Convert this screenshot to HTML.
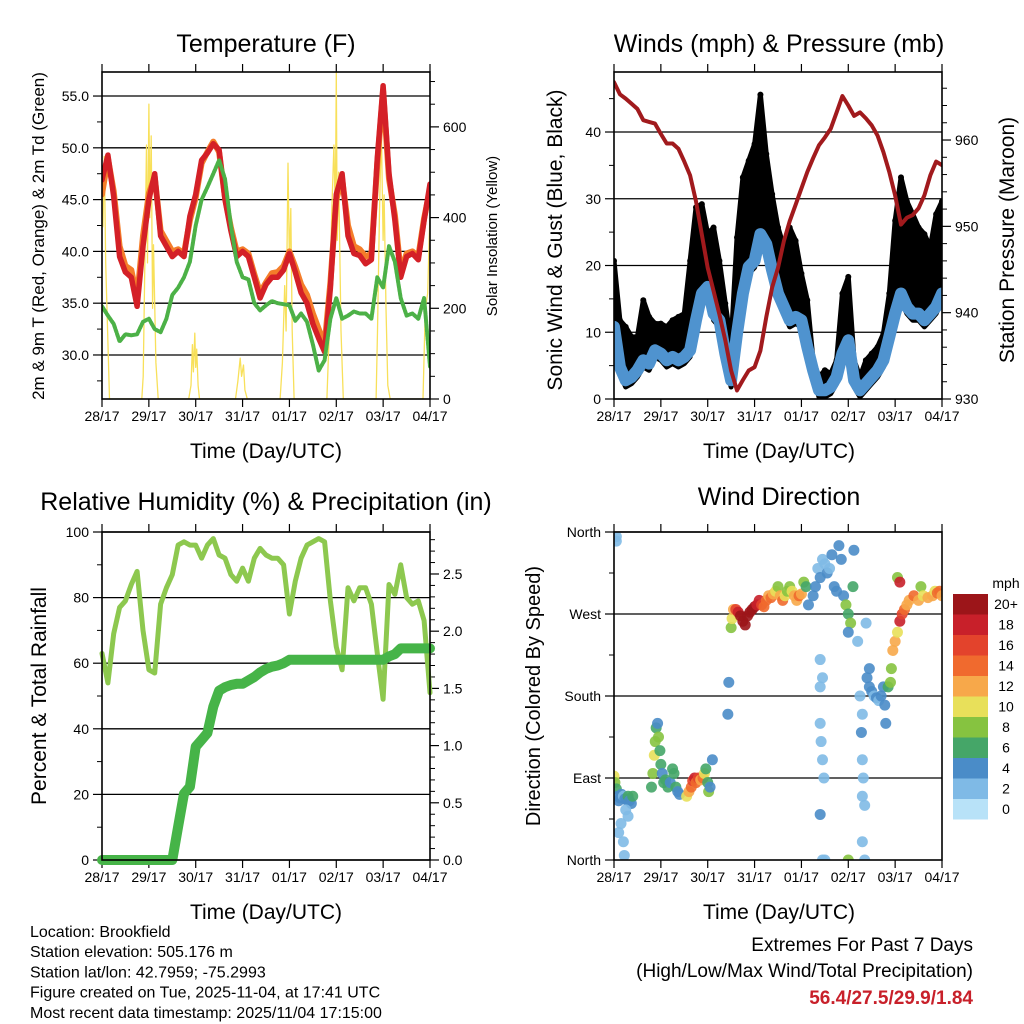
<!DOCTYPE html>
<html><head><meta charset="utf-8"><style>
body{margin:0;background:#fff;}
svg{display:block;font-family:"Liberation Sans",Arial,sans-serif;}
</style></head><body>
<svg id="c" width="1024" height="1024" viewBox="0 0 1024 1024"></svg>
<script>
// ---------- DATA (3-hour steps over 7 days unless noted) ----------
const dayLabels = ["28/17","29/17","30/17","31/17","01/17","02/17","03/17","04/17"];
const tempRed = [46.9,49.3,45.3,39.5,38.0,37.5,34.7,40.5,45.0,47.5,41.5,40.5,39.5,40.0,39.5,43.4,45.5,48.8,49.5,50.4,49.8,45.0,42.0,39.5,40.0,39.5,37.5,35.5,36.8,37.5,37.5,38.2,39.8,38.0,36.0,35.0,33.0,31.6,30.3,36.5,45.5,47.5,41.5,39.8,39.6,38.8,39.2,49.0,56.0,47.5,43.0,37.5,39.5,39.8,39.2,43.0,46.5];
const tempOrange = [45.5,49.0,45.8,40.5,38.6,38.2,35.5,41.5,45.6,47.2,42.0,41.0,40.0,40.2,39.8,43.0,45.2,48.5,49.6,50.6,49.6,45.2,42.3,40.0,40.2,39.8,37.8,36.0,37.0,37.9,38.0,38.6,40.0,38.5,36.8,35.8,34.0,32.5,31.0,37.0,45.0,47.0,42.5,40.5,40.2,39.5,39.8,48.5,55.5,47.0,43.5,38.0,39.8,40.0,39.5,43.2,46.0];
const tempDew = [34.7,33.8,33.0,31.3,32.0,31.9,32.0,33.2,33.5,32.5,32.2,33.5,35.8,36.5,37.5,39.0,42.5,45.0,46.2,47.5,48.8,47.0,42.5,39.0,37.5,37.3,35.0,34.3,34.8,35.2,35.0,34.9,34.8,33.3,34.0,33.2,31.0,28.5,29.5,33.5,35.5,33.5,33.8,34.2,34.0,34.0,33.5,37.5,36.5,40.5,39.0,35.5,33.8,34.0,33.5,35.5,28.9];
const solarDays = [0,0.02,0.05,0.08,0.12,0.16,0.85,0.88,0.9,0.95,0.97,1.0,1.02,1.05,1.08,1.1,1.15,1.2,1.85,1.9,1.93,1.95,1.98,2.0,2.02,2.05,2.08,2.85,2.9,2.95,2.98,3.02,3.05,3.1,3.8,3.85,3.9,3.93,3.97,4.0,4.03,4.06,4.1,4.8,4.85,4.9,4.95,4.98,5.0,5.02,5.05,5.1,5.15,5.85,5.88,5.92,5.96,6.0,6.02,6.06,6.1,6.15,6.85,6.9,6.95,6.98,7.0];
const solarVals = [420,380,535,300,150,0,0,50,200,560,300,650,400,580,200,340,80,0,0,30,120,60,145,70,110,30,0,0,40,90,50,75,20,0,0,80,250,150,520,300,420,150,0,0,150,400,560,400,722,350,500,150,0,0,150,400,600,350,450,200,30,0,0,200,233,350,400];
const pressure = [966.7,965.3,964.8,964.2,963.6,962.3,962.1,961.9,960.7,959.6,959.6,959.0,957.5,955.9,952.9,949.0,945.2,942.5,939.8,936.8,933.3,931.0,932.2,933.3,933.7,935.6,939.5,942.9,945.2,948.3,950.6,952.5,954.4,956.3,957.9,959.4,960.3,961.3,963.2,965.1,964.0,962.8,963.2,962.5,961.7,960.5,958.6,956.3,953.6,950.2,951.0,951.3,952.1,953.6,955.9,957.5,957.1];
const windMean = [10.8,4.8,2.8,3.3,4.3,5.8,5.3,7.3,6.8,5.8,6.3,5.8,6.3,7.3,11.8,15.8,16.8,12.8,11.8,6.8,2.8,9.8,15.8,19.8,20.7,24.7,23.2,19.3,15.8,13.8,11.8,12.3,11.8,7.8,4.3,1.3,1.3,1.8,3.3,6.8,8.8,2.8,1.3,2.3,3.3,4.3,5.8,9.3,12.8,15.8,13.8,12.8,12.8,11.8,12.8,13.8,15.8];
const windGust = [20.7,11.8,10.8,9.3,9.3,14.8,12.3,11.3,11.3,10.8,11.8,12.3,12.8,20.7,28.7,29.2,24.7,25.7,20.7,14.3,8.3,24.2,33.2,35.7,38.2,45.6,36.7,30.7,25.7,22.7,25.7,23.7,18.8,14.8,5.8,3.3,4.3,3.8,5.8,15.8,18.3,5.8,3.3,5.8,6.8,7.8,9.8,15.8,26.7,33.2,29.6,27.7,25.7,24.7,22.7,27.7,29.6];
const rh = [63,54,69,77,79,84,88,70,58,57,78,83,87,96,97,96,96,92,96,98,93,92,87,85,89,85,92,95,93,92,92,90,75,85,92,96,97,98,97,79,65,58,83,79,83,83,78,63,49,84,81,90,80,78,79,73,51];
const precip = [0,0,0,0,0,0,0,0,0,0,0,0,0,0.29,0.58,0.64,0.99,1.05,1.11,1.34,1.48,1.51,1.53,1.54,1.54,1.57,1.60,1.64,1.67,1.69,1.70,1.72,1.75,1.75,1.75,1.75,1.75,1.75,1.75,1.75,1.75,1.75,1.75,1.75,1.75,1.75,1.75,1.75,1.75,1.78,1.80,1.85,1.85,1.85,1.85,1.85,1.85];
const dirDays = [0.0,0.02,0.05,0.08,0.1,0.13,0.16,0.2,0.23,0.27,0.3,0.33,0.37,0.4,0.15,0.2,0.22,0.1,0.25,0.3,0.05,0.05,
0.8,0.83,0.86,0.88,0.9,0.93,0.95,0.98,1.0,1.03,1.06,1.1,1.15,1.2,1.25,1.28,1.32,1.36,1.4,
1.55,1.6,1.65,1.68,1.72,1.75,1.8,1.85,1.9,1.93,1.96,2.0,2.02,2.05,2.1,
2.5,2.52,2.55,2.6,2.65,2.7,2.75,2.8,2.85,2.9,2.95,3.0,3.05,3.1,3.15,3.2,3.25,3.3,3.35,3.4,3.45,3.5,3.55,3.6,3.65,3.7,3.75,3.8,3.85,3.9,3.95,4.0,4.05,4.1,4.15,2.45,2.43,
4.25,4.3,4.35,4.4,4.45,4.5,4.55,4.6,4.65,4.7,4.75,4.8,4.85,4.9,4.95,5.0,5.05,5.0,5.1,5.12,4.45,4.5,4.4,4.45,4.4,4.42,4.45,4.48,4.4,4.4,
5.25,5.3,5.28,5.3,5.32,5.3,5.35,5.3,5.35,5.2,5.38,5.0,
5.4,5.45,5.45,5.5,5.55,5.6,5.65,5.7,5.75,5.78,5.8,5.85,5.9,5.92,5.95,6.0,6.05,6.1,6.15,6.2,6.25,6.3,6.4,6.5,6.55,6.6,6.7,6.8,6.85,6.9,6.95,7.0,6.05,6.1];
const dirDeg = [92,85,78,70,65,68,72,70,67,66,70,65,62,70,40,20,5,30,55,48,355,350,
80,95,115,130,145,150,135,120,105,95,85,88,80,85,100,95,80,75,72,
70,75,80,87,90,85,90,88,90,95,100,85,75,80,110,
255,265,275,275,272,268,262,258,268,272,275,278,280,285,280,278,285,290,288,292,295,300,290,285,290,295,300,295,290,285,290,292,305,300,280,195,160,
290,300,320,310,330,325,315,320,335,300,295,345,330,290,280,270,260,250,300,340,0,0,220,200,150,130,110,90,50,190,
180,160,140,110,90,70,60,20,0,240,260,0,
200,210,190,185,180,178,175,180,190,170,150,190,195,210,230,240,250,262,270,275,280,285,290,285,300,290,288,290,295,293,295,290,310,305];
const dirSpeed = [10,8,6,4,3,4,3,2,4,3,5,4,3,5,1,1,1,1,2,1,1,2,
5,8,9,7,6,4,7,6,5,4,6,5,6,4,5,6,5,4,4,
10,12,14,16,18,14,16,12,13,10,6,6,8,4,4,
8,10,12,16,18,20,20,20,20,20,20,20,18,18,16,14,14,12,14,12,10,8,12,14,10,8,7,9,12,11,14,12,8,6,4,4,3,
4,3,2,3,2,1,3,2,3,4,4,4,4,4,7,6,8,3,5,4,1,1,1,1,1,2,1,1,3,2,
2,1,3,2,2,1,2,1,1,1,1,8,
3,4,3,3,2,3,2,3,4,4,4,6,8,8,12,12,10,18,16,14,12,12,14,12,8,10,12,12,10,14,14,12,8,18];
const speedLabels = ["20+","18","16","14","12","10","8","6","4","2","0"];
const speedColors = ["#9c1519","#c8202a","#e3432c","#f06a2e","#f7a84a","#e8e05a","#86c340","#45a668","#4a8cc8","#7fbae6","#b8e2f8"];

// ---------- RENDER ----------
const NS="http://www.w3.org/2000/svg";
const svg=document.getElementById('c');
function mk(tag,attrs,parent){const e=document.createElementNS(NS,tag);for(const k in attrs)e.setAttribute(k,attrs[k]);(parent||svg).appendChild(e);return e;}
function txt(s,x,y,size,anchor,parent,extra){const t=mk('text',Object.assign({x:x,y:y,'font-size':size,'text-anchor':anchor||'middle',fill:'#000'},extra||{}),parent);t.textContent=s;return t;}
const N=tempRed.length;
function dayAt(i){return i*7/(N-1);}

function panel(name,x0,x1,y0,y1){
  const g=mk('g',{});
  
  
  return {g,x0,x1,y0,y1,sx:d=>x0+d/7*(x1-x0)};
}
function linY(vmin,vmax,p){return v=>p.y1-(v-vmin)/(vmax-vmin)*(p.y1-p.y0);}
function frame(p,leftTicks,leftMinor,sy,fmt,rightTicks,rightMinor,sy2,fmt2,grid,leftLabels){
  for(const v of (grid||leftTicks)){const y=sy(v);const l=mk('line',{x1:p.x0,x2:p.x1,y1:y,y2:y,stroke:'#000','stroke-width':1.3},p.g);}
  for(let d=0;d<=7;d++){const x=p.sx(d);
    mk('line',{x1:x,x2:x,y1:p.y0,y2:p.y0-8,stroke:'#000','stroke-width':1.2},p.g);
    mk('line',{x1:x,x2:x,y1:p.y1,y2:p.y1+8,stroke:'#000','stroke-width':1.2},p.g);
    const t=txt(dayLabels[d],x,p.y1+22,14,'middle',p.g);}
  leftTicks.forEach((v,i)=>{const y=sy(v);mk('line',{x1:p.x0,x2:p.x0-9,y1:y,y2:y,stroke:'#000','stroke-width':1.2},p.g);
    const t=txt(leftLabels?leftLabels[i]:fmt(v),p.x0-13,y+5,14,'end',p.g);});
  for(const v of leftMinor){const y=sy(v);mk('line',{x1:p.x0,x2:p.x0-5,y1:y,y2:y,stroke:'#000','stroke-width':1},p.g);}
  if(rightTicks){rightTicks.forEach(v=>{const y=sy2(v);mk('line',{x1:p.x1,x2:p.x1+9,y1:y,y2:y,stroke:'#000','stroke-width':1.2},p.g);
    const t=txt(fmt2(v),p.x1+13,y+5,14,'start',p.g);});
   for(const v of rightMinor){const y=sy2(v);mk('line',{x1:p.x1,x2:p.x1+5,y1:y,y2:y,stroke:'#000','stroke-width':1},p.g);}}
}
function border(p){const r=mk('rect',{x:p.x0,y:p.y0,width:p.x1-p.x0,height:p.y1-p.y0,fill:'none',stroke:'#000','stroke-width':1.6},p.g);}
function poly(p,days,vals,sy,attrs,name){const pts=vals.map((v,i)=>p.sx(days(i)).toFixed(1)+','+sy(v).toFixed(1)).join(' ');
  const e=mk('polyline',Object.assign({points:pts,fill:'none','stroke-linejoin':'round','stroke-linecap':'round'},attrs),p.g);
  return e;}
function clip(p,id){const c=mk('clipPath',{id:id});mk('rect',{x:p.x0,y:p.y0,width:p.x1-p.x0,height:p.y1-p.y0},c);return mk('g',{'clip-path':'url(#'+id+')'},p.g);}

// ---- Panel 1: Temperature ----
{const p=panel('temperature-panel',102,430,72,399);
 const sy=linY(25.75,57.32,p), sy2=linY(0,721,p);
 const maj=[30,35,40,45,50,55],minor=[27.5,32.5,37.5,42.5,47.5,52.5];
 frame(p,maj,minor,sy,v=>v.toFixed(1),[0,200,400,600],[50,100,150,250,300,350,450,500,550,650,700],sy2,v=>String(v));
 const g=clip(p,'c1'); const pp={g,sx:p.sx};
 poly(pp,i=>solarDays[i],solarVals,sy2,{stroke:'#f8e05a','stroke-width':1.3},'solar-insolation-line');
 poly(pp,dayAt,tempOrange,sy,{stroke:'#f47d2a','stroke-width':6},'temp-9m-line');
 poly(pp,dayAt,tempRed,sy,{stroke:'#d42027','stroke-width':5.5},'temp-2m-line');
 poly(pp,dayAt,tempDew,sy,{stroke:'#4cb147','stroke-width':4,'stroke-dasharray':'3 1.5'},'dewpoint-line');
 border(p);
 let t=txt('Temperature (F)',266,52,25,'middle',p.g);
 t=txt('Time (Day/UTC)',266,458,21,'middle',p.g);
 t=txt('2m & 9m T (Red, Orange) & 2m Td (Green)',44,236,17,'middle',p.g,{transform:'rotate(-90 44 236)'});
 t=txt('Solar Insolation (Yellow)',497,236,15,'middle',p.g,{transform:'rotate(-90 497 236)'});
}
// ---- Panel 2: Winds ----
{const p=panel('winds-pressure-panel',614,942,72,399);
 const sy=linY(0,48.99,p), sy2=linY(930,967.88,p);
 frame(p,[0,10,20,30,40],[5,15,25,35,45],sy,v=>String(v),[930,940,950,960],[932,934,936,938,942,944,946,948,952,954,956,958,962,964,966],sy2,v=>String(v));
 const g=clip(p,'c2');
 const up=windGust.map((v,i)=>p.sx(dayAt(i)).toFixed(1)+','+sy(v).toFixed(1));
 const dn=windMean.map((v,i)=>p.sx(dayAt(i)).toFixed(1)+','+sy(Math.max(0,v-1)).toFixed(1)).reverse();
 const a=mk('polygon',{points:up.concat(dn).join(' '),fill:'#000',stroke:'#000','stroke-width':5,'stroke-linejoin':'round'},g);
 
 windGust.forEach((v,i)=>{const c=mk('circle',{cx:p.sx(dayAt(i)),cy:sy(v),r:3,fill:'#000'},g);});
 poly({g,sx:p.sx},dayAt,windMean,sy,{stroke:'#4f93cf','stroke-width':12},'wind-speed-line');
 poly({g,sx:p.sx},dayAt,pressure,sy2,{stroke:'#a11a1d','stroke-width':4},'pressure-line');
 border(p);
 let t=txt('Winds (mph) & Pressure (mb)',779,52,25,'middle',p.g);
 t=txt('Time (Day/UTC)',779,458,21,'middle',p.g);
 t=txt('Sonic Wind & Gust (Blue, Black)',562,240,21,'middle',p.g,{transform:'rotate(-90 562 240)'});
 t=txt('Station Pressure (Maroon)',1014,240,21,'middle',p.g,{transform:'rotate(-90 1014 240)'});
}
// ---- Panel 3: RH & precip ----
{const p=panel('humidity-precip-panel',102,430,532,860);
 const sy=linY(0,100,p), sy2=linY(0,2.867,p);
 frame(p,[0,20,40,60,80,100],[10,30,50,70,90],sy,v=>String(v),[0,0.5,1,1.5,2,2.5],[0.1,0.2,0.3,0.4,0.6,0.7,0.8,0.9,1.1,1.2,1.3,1.4,1.6,1.7,1.8,1.9,2.1,2.2,2.3,2.4,2.6,2.7,2.8],sy2,v=>v.toFixed(1));
 const g=mk('g',{},p.g);
 poly({g,sx:p.sx},dayAt,rh,sy,{stroke:'#8dc84f','stroke-width':5},'relative-humidity-line');
 poly({g,sx:p.sx},dayAt,precip,sy2,{stroke:'#46b448','stroke-width':10},'total-rainfall-line');
 border(p);
 let t=txt('Relative Humidity (%) & Precipitation (in)',266,510,25,'middle',p.g);
 t=txt('Time (Day/UTC)',266,919,21,'middle',p.g);
 t=txt('Percent & Total Rainfall',46,696,21,'middle',p.g,{transform:'rotate(-90 46 696)'});
}
// ---- Panel 4: Wind direction ----
{const p=panel('wind-direction-panel',614,942,532,860);
 const sy=linY(0,360,p);
 frame(p,[0,90,180,270,360],[45,135,225,315],sy,null,null,null,null,null,[90,180,270,360],["North","East","South","West","North"]);
 const g=clip(p,'c4');
 function col(s){let i=Math.round(Math.min(s,20)/2);return speedColors[10-i];}
 dirDeg.forEach((v,i)=>{const c=mk('circle',{cx:p.sx(dirDays[i]),cy:sy(v),r:5.5,fill:col(dirSpeed[i]),'fill-opacity':0.9},g);
   });
 border(p);
 let t=txt('Wind Direction',779,505,25,'middle',p.g);
 t=txt('Time (Day/UTC)',779,919,21,'middle',p.g);
 t=txt('Direction (Colored By Speed)',540,696,20,'middle',p.g,{transform:'rotate(-90 540 696)'});
 const lg=mk('g',{});
 t=txt('mph',1006,588,14,'middle',lg);
 const h=20.5;
 speedLabels.forEach((s,i)=>{const r=mk('rect',{x:953,y:594+i*h,width:35,height:h,fill:speedColors[i]},lg);
  const tt=txt(s,1006,594+i*h+15,14,'middle',lg);});
}
// ---- Footer ----
{const f=mk('g',{});
 ["Location: Brookfield","Station elevation: 505.176 m","Station lat/lon: 42.7959; -75.2993","Figure created on Tue, 2025-11-04, at 17:41 UTC","Most recent data timestamp: 2025/11/04 17:15:00"].forEach((s,i)=>{
  const t=txt(s,30,937+i*20.2,16,'start',f);});
 const e=mk('g',{});
 let t=txt('Extremes For Past 7 Days',973,951,19,'end',e);
 t=txt('(High/Low/Max Wind/Total Precipitation)',973,977,19,'end',e);
 t=txt('56.4/27.5/29.9/1.84',973,1004,19,'end',e,{fill:'#c8202a','font-weight':'bold'});
}
</script>
</body></html>
